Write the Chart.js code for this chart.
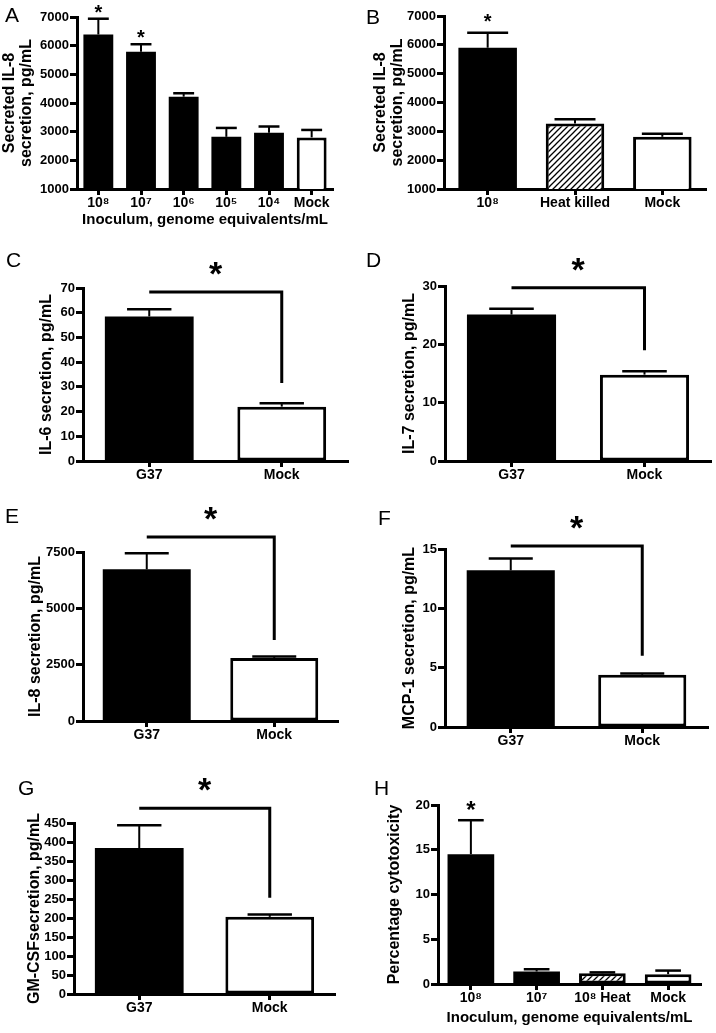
<!DOCTYPE html>
<html>
<head>
<meta charset="utf-8">
<script src="https://cdn.jsdelivr.net/npm/chart.js@4.4.0/dist/chart.umd.min.js"></script>
<style>
  html, body { margin: 0; padding: 0; background: #fff; }
  #fig { position: relative; width: 716px; height: 1033px; overflow: hidden; font-family: "Liberation Sans", Arial, sans-serif; }
  .panel { position: absolute; }
  .tag { position: absolute; font-size: 21px; line-height: 1; color: #000; }
</style>
</head>
<body>
<div id="fig"></div>
<script>
// A: IL-8 by inoculum dose
const labelsA = ["10⁸", "10⁷", "10⁶", "10⁵", "10⁴", "Mock"];
const il8DoseMean = [6390, 5790, 4220, 2820, 2960, 2800];
const il8DoseSem = [550, 260, 120, 310, 220, 260];
const il8DoseStar = [true, true, false, false, false, false];

// B: live vs heat killed
const labelsB = ["10⁸", "Heat killed", "Mock"];
const il8HeatMean = [5900, 3270, 2810];
const il8HeatSem = [520, 150, 110];
const il8HeatStar = [true, false, false];

// C-G: G37 vs mock
const labelsPair = ["G37", "Mock"];
const il6Mean = [58.5, 22.0];
const il6Sem = [2.9, 1.4];
const il7Mean = [25.1, 14.8];
const il7Sem = [1.0, 0.6];
const il8Mean = [6730, 2800];
const il8Sem = [720, 60];
const mcp1Mean = [13.2, 4.4];
const mcp1Sem = [1.0, 0.1];
const gmcsfMean = [384, 203];
const gmcsfSem = [60, 6];

// H: cytotoxicity
const labelsH = ["10⁸", "10⁷", "10⁸ Heat", "Mock"];
const cytoMean = [14.5, 1.4, 1.2, 1.1];
const cytoSem = [3.8, 0.25, 0.1, 0.4];
const cytoStar = [true, false, false, false];

// significance brackets, data units: [bar level, end of drop on the Mock side]
const bracketC = [68.4, 31.6];
const bracketD = [29.7, 19.0];
const bracketE = [8170, 3600];
const bracketF = [15.25, 6.0];
const bracketG = [489, 253];

// y axes: [min, max, step]
const axisA = [1000, 7000, 1000];
const axisB = [1000, 7000, 1000];
const axisC = [0, 70, 10];
const axisD = [0, 30, 10];
const axisE = [0, 7500, 2500];
const axisF = [0, 15, 5];
const axisG = [0, 450, 50];
const axisH = [0, 20, 5];

// bar fill kinds
const fillA = ["black", "black", "black", "black", "black", "white"];
const fillB = ["black", "hatch", "white"];
const fillPair = ["black", "white"];
const fillH = ["black", "black", "hatch", "white"];

const FONT = '"Liberation Sans", Arial, sans-serif';
Chart.defaults.font.family = FONT;
Chart.defaults.font.weight = "bold";
Chart.defaults.color = "#000";

function hatchPattern() {
  const c = document.createElement("canvas");
  c.width = 6;
  c.height = 6;
  const g = c.getContext("2d");
  g.fillStyle = "#fff";
  g.fillRect(0, 0, 6, 6);
  g.strokeStyle = "#000";
  g.lineWidth = 1.3;
  g.beginPath();
  g.moveTo(0, 6); g.lineTo(6, 0);
  g.moveTo(-1, 1); g.lineTo(1, -1);
  g.moveTo(5, 7); g.lineTo(7, 5);
  g.stroke();
  return g.createPattern(c, "repeat");
}
const fills = { black: "#000", white: "#fff", hatch: hatchPattern() };

function drawStar(ctx, x, yCenter, size) {
  ctx.font = `bold ${size}px ${FONT}`;
  ctx.textAlign = "center";
  ctx.textBaseline = "alphabetic";
  ctx.fillText("*", x, yCenter + 0.5 * size);
}

// error bars (upper SEM only), asterisks and brackets
function overlayFor(p) {
  return {
    id: "overlay" + p.tag,
    afterDatasetsDraw(chart) {
      const ctx = chart.ctx;
      const y = chart.scales.y;
      const bars = chart.getDatasetMeta(0).data;
      ctx.save();
      ctx.strokeStyle = "#000";
      ctx.fillStyle = "#000";
      bars.forEach((bar, i) => {
        const top = y.getPixelForValue(p.mean[i] + p.sem[i]);
        const half = bar.width * p.cap / 2;
        ctx.lineWidth = 2;
        ctx.beginPath();
        ctx.moveTo(bar.x, bar.y);
        ctx.lineTo(bar.x, top);
        ctx.stroke();
        ctx.lineWidth = 2.5;
        ctx.beginPath();
        ctx.moveTo(bar.x - half, top);
        ctx.lineTo(bar.x + half, top);
        ctx.stroke();
        if (p.stars && p.stars[i]) drawStar(ctx, bar.x, top - p.starGap, p.starSize);
      });
      if (p.bracket) {
        const x1 = bars[0].x, x2 = bars[1].x;
        const yh = y.getPixelForValue(p.bracket[0]);
        const yd = y.getPixelForValue(p.bracket[1]);
        ctx.lineWidth = 3;
        ctx.lineJoin = "miter";
        ctx.beginPath();
        ctx.moveTo(x1, yh);
        ctx.lineTo(x2, yh);
        ctx.lineTo(x2, yd);
        ctx.stroke();
        drawStar(ctx, (x1 + x2) / 2, yh - 24, 34);
      }
      ctx.restore();
    }
  };
}

const panels = [
  { tag: "A", box: [0, 0, 345, 230], yw: 77, xh: 41, pad: [17, 12], tagPos: [5, 4],
    labels: labelsA, mean: il8DoseMean, sem: il8DoseSem, fill: fillA, axis: axisA,
    ytitle: ["Secreted IL-8", "secretion, pg/mL"], ytPad: 1,
    xtitle: "Inoculum, genome equivalents/mL", xtPad: 2,
    barPct: 0.7, cap: 0.7, stars: il8DoseStar, starSize: 20, starGap: 10 },
  { tag: "B", box: [358, 0, 358, 230], yw: 86, xh: 41, pad: [16, 10], tagPos: [366, 6],
    labels: labelsB, mean: il8HeatMean, sem: il8HeatSem, fill: fillB, axis: axisB,
    ytitle: ["Secreted IL-8", "secretion, pg/mL"], ytPad: 14,
    barPct: 0.67, cap: 0.7, stars: il8HeatStar, starSize: 20, starGap: 15 },
  { tag: "C", box: [0, 250, 358, 240], yw: 83, xh: 29, pad: [38, 10], tagPos: [6, 249],
    labels: labelsPair, mean: il6Mean, sem: il6Sem, fill: fillPair, axis: axisC,
    ytitle: "IL-6 secretion, pg/mL", ytPad: 38, barPct: 0.67, cap: 0.5, bracket: bracketC },
  { tag: "D", box: [358, 250, 358, 240], yw: 87, xh: 29, pad: [36, 5], tagPos: [366, 249],
    labels: labelsPair, mean: il7Mean, sem: il7Sem, fill: fillPair, axis: axisD,
    ytitle: "IL-7 secretion, pg/mL", ytPad: 43, barPct: 0.67, cap: 0.5, bracket: bracketD },
  { tag: "E", box: [0, 495, 358, 260], yw: 83, xh: 34, pad: [57, 20], tagPos: [5, 505],
    labels: labelsPair, mean: il8Mean, sem: il8Sem, fill: fillPair, axis: axisE,
    ytitle: "IL-8 secretion, pg/mL", ytPad: 27, barPct: 0.69, cap: 0.5, bracket: bracketE },
  { tag: "F", box: [358, 495, 358, 260], yw: 87, xh: 28, pad: [54, 8], tagPos: [378, 507],
    labels: labelsPair, mean: mcp1Mean, sem: mcp1Sem, fill: fillPair, axis: axisF,
    ytitle: "MCP-1 secretion, pg/mL", ytPad: 43, barPct: 0.67, cap: 0.5, bracket: bracketF },
  { tag: "G", box: [0, 760, 358, 273], yw: 74, xh: 39, pad: [63, 23], tagPos: [18, 777],
    labels: labelsPair, mean: gmcsfMean, sem: gmcsfSem, fill: fillPair, axis: axisG,
    ytitle: "GM-CSFsecretion, pg/mL", ytPad: 26, barPct: 0.68, cap: 0.5, bracket: bracketG },
  { tag: "H", box: [358, 760, 358, 273], yw: 80, xh: 49, pad: [45, 15], tagPos: [374, 777],
    labels: labelsH, mean: cytoMean, sem: cytoSem, fill: fillH, axis: axisH,
    ytitle: "Percentage cytotoxicity", ytPad: 28,
    xtitle: "Inoculum, genome equivalents/mL", xtPad: 7,
    barPct: 0.71, cap: 0.55, stars: cytoStar, starSize: 24, starGap: 14 }
];

const fig = document.getElementById("fig");

panels.forEach((p) => {
  const wrap = document.createElement("div");
  wrap.className = "panel";
  wrap.style.left = p.box[0] + "px";
  wrap.style.top = p.box[1] + "px";
  wrap.style.width = p.box[2] + "px";
  wrap.style.height = p.box[3] + "px";
  const canvas = document.createElement("canvas");
  wrap.appendChild(canvas);
  fig.appendChild(wrap);

  const tag = document.createElement("div");
  tag.className = "tag";
  tag.textContent = p.tag;
  tag.style.left = p.tagPos[0] + "px";
  tag.style.top = p.tagPos[1] + "px";
  fig.appendChild(tag);

  new Chart(canvas, {
    type: "bar",
    data: {
      labels: p.labels,
      datasets: [{
        data: p.mean,
        backgroundColor: p.fill.map((f) => fills[f]),
        borderColor: "#000",
        // solid bars get no border so there is no seam between fill and outline
        borderWidth: p.fill.map((f) => (f === "black" ? 0 : 3)),
        borderSkipped: false,
        barPercentage: p.barPct,
        categoryPercentage: 1
      }]
    },
    options: {
      responsive: true,
      maintainAspectRatio: false,
      animation: false,
      events: [],
      layout: { padding: { top: p.pad[0], right: p.pad[1], left: 0, bottom: 0 } },
      plugins: { legend: { display: false }, tooltip: { enabled: false } },
      scales: {
        x: {
          offset: true,
          grid: { offset: false, drawOnChartArea: false, color: "#000", tickColor: "#000", tickLength: 6, tickWidth: 3 },
          border: { color: "#000", width: 3 },
          ticks: { color: "#000", font: { size: 14, weight: "bold" }, padding: 0, maxRotation: 0, autoSkip: false },
          title: {
            display: !!p.xtitle,
            text: p.xtitle || "",
            color: "#000",
            font: { size: 15, weight: "bold", lineHeight: 1.1 },
            padding: { top: 0, bottom: p.xtPad || 0 }
          },
          afterFit: (s) => { s.height = p.xh; }
        },
        y: {
          min: p.axis[0],
          max: p.axis[1],
          grid: { drawOnChartArea: false, color: "#000", tickColor: "#000", tickLength: 7, tickWidth: 3 },
          border: { color: "#000", width: 3 },
          ticks: { stepSize: p.axis[2], color: "#000", font: { size: 13, weight: "bold" }, padding: 1, callback: (v) => String(v) },
          title: {
            display: true,
            text: p.ytitle,
            color: "#000",
            font: { size: 16, weight: "bold", lineHeight: 1.05 },
            padding: { top: p.ytPad, bottom: 0 }
          },
          afterFit: (s) => { s.width = p.yw; }
        }
      }
    },
    plugins: [overlayFor(p)]
  });
});
</script>
</body>
</html>
